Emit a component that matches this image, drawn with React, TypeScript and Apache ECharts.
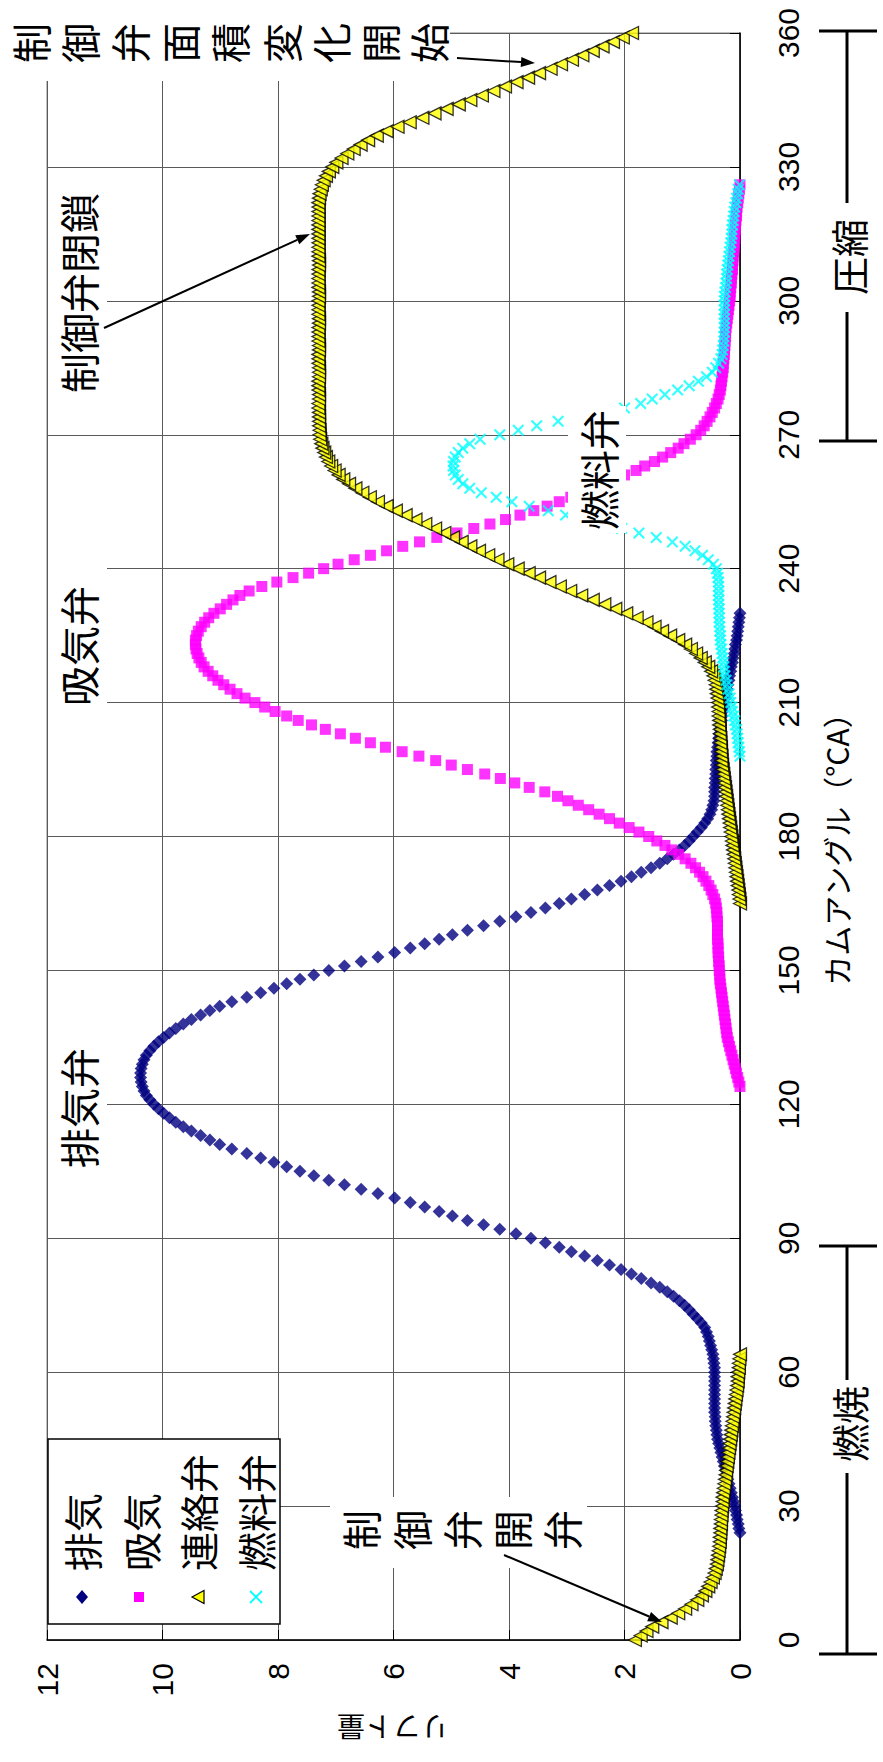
import React, { useEffect, useRef } from "react";
import * as echarts from "echarts";

const W = 883;
const H = 1762;

// Cam angle (deg CA) sampled every 1 degree; lift in mm
const exhaustStart = 24;
const exhaustLift = [
  0.00, 0.02, 0.03, 0.05, 0.06, 0.08, 0.09, 0.11, 0.13, 0.15,
  0.17, 0.19, 0.21, 0.23, 0.25, 0.27, 0.29, 0.31, 0.33, 0.35,
  0.37, 0.39, 0.40, 0.41, 0.42, 0.43, 0.43, 0.44, 0.44, 0.44,
  0.44, 0.44, 0.44, 0.44, 0.44, 0.44, 0.44, 0.44, 0.45, 0.46,
  0.47, 0.49, 0.51, 0.53, 0.55, 0.58, 0.61, 0.67, 0.74, 0.81,
  0.88, 0.96, 1.05, 1.15, 1.26, 1.39, 1.54, 1.71, 1.88, 2.06,
  2.26, 2.47, 2.69, 2.92, 3.13, 3.37, 3.62, 3.88, 4.16, 4.44,
  4.72, 4.98, 5.21, 5.46, 5.71, 5.98, 6.27, 6.56, 6.85, 7.12,
  7.38, 7.62, 7.85, 8.07, 8.30, 8.54, 8.80, 9.01, 9.18, 9.34,
  9.50, 9.64, 9.77, 9.88, 9.98, 10.07, 10.15, 10.22, 10.28, 10.32,
  10.35, 10.37, 10.38, 10.38, 10.37, 10.35, 10.32, 10.28, 10.22, 10.15,
  10.07, 9.98, 9.88, 9.77, 9.64, 9.50, 9.34, 9.18, 9.01, 8.80,
  8.54, 8.30, 8.07, 7.85, 7.62, 7.38, 7.12, 6.85, 6.56, 6.27,
  5.98, 5.71, 5.46, 5.21, 4.98, 4.72, 4.44, 4.16, 3.88, 3.62,
  3.37, 3.13, 2.92, 2.69, 2.47, 2.26, 2.06, 1.88, 1.71, 1.54,
  1.39, 1.26, 1.15, 1.05, 0.96, 0.88, 0.81, 0.74, 0.67, 0.61,
  0.56, 0.52, 0.49, 0.47, 0.45, 0.44, 0.44, 0.44, 0.43, 0.43,
  0.42, 0.42, 0.41, 0.41, 0.40, 0.40, 0.39, 0.38, 0.37, 0.36,
  0.35, 0.34, 0.32, 0.31, 0.30, 0.28, 0.27, 0.25, 0.24, 0.22,
  0.21, 0.19, 0.18, 0.16, 0.15, 0.13, 0.12, 0.10, 0.09, 0.08,
  0.06, 0.05, 0.04, 0.03, 0.02, 0.01, 0.00,
];

const intakeStart = 124;
const intakeLift = [
  0.00, 0.02, 0.04, 0.06, 0.08, 0.10, 0.12, 0.14, 0.16, 0.18,
  0.20, 0.22, 0.23, 0.24, 0.25, 0.26, 0.27, 0.28, 0.29, 0.30,
  0.31, 0.32, 0.33, 0.34, 0.35, 0.35, 0.36, 0.36, 0.37, 0.37,
  0.38, 0.38, 0.38, 0.39, 0.39, 0.39, 0.39, 0.39, 0.40, 0.40,
  0.41, 0.42, 0.44, 0.47, 0.50, 0.54, 0.59, 0.64, 0.70, 0.77,
  0.85, 0.95, 1.06, 1.18, 1.30, 1.44, 1.58, 1.75, 1.92, 2.09,
  2.26, 2.44, 2.62, 2.80, 2.98, 3.16, 3.38, 3.65, 3.90, 4.15,
  4.42, 4.72, 5.00, 5.27, 5.56, 5.85, 6.14, 6.40, 6.66, 6.92,
  7.18, 7.42, 7.65, 7.85, 8.05, 8.23, 8.40, 8.57, 8.71, 8.83,
  8.94, 9.04, 9.13, 9.21, 9.28, 9.33, 9.37, 9.40, 9.42, 9.43,
  9.43, 9.41, 9.38, 9.33, 9.27, 9.20, 9.11, 9.00, 8.89, 8.78,
  8.66, 8.50, 8.28, 8.02, 7.74, 7.47, 7.21, 6.96, 6.68, 6.40,
  6.12, 5.84, 5.55, 5.25, 4.90, 4.61, 4.33, 4.06, 3.81, 3.57,
  3.34, 3.13, 2.93, 2.73, 2.54, 2.35, 2.17, 2.00, 1.80, 1.65,
  1.48, 1.34, 1.20, 1.07, 0.97, 0.86, 0.76, 0.68, 0.62, 0.57,
  0.52, 0.48, 0.44, 0.41, 0.38, 0.36, 0.34, 0.33, 0.32, 0.31,
  0.30, 0.29, 0.29, 0.28, 0.27, 0.27, 0.26, 0.26, 0.25, 0.25,
  0.24, 0.23, 0.22, 0.21, 0.20, 0.19, 0.18, 0.17, 0.17, 0.16,
  0.15, 0.15, 0.14, 0.13, 0.13, 0.12, 0.12, 0.11, 0.10, 0.10,
  0.09, 0.09, 0.08, 0.08, 0.07, 0.06, 0.06, 0.05, 0.04, 0.03,
  0.02, 0.01, 0.00,
];

const linkStartA = 0;
const linkLiftA = [
  1.82, 1.72, 1.62, 1.52, 1.36, 1.20, 1.07, 0.95, 0.84, 0.74,
  0.66, 0.60, 0.55, 0.51, 0.47, 0.44, 0.42, 0.40, 0.39, 0.38,
  0.37, 0.36, 0.35, 0.35, 0.34, 0.34, 0.33, 0.33, 0.32, 0.32,
  0.31, 0.30, 0.30, 0.29, 0.28, 0.27, 0.26, 0.25, 0.24, 0.23,
  0.22, 0.21, 0.20, 0.19, 0.18, 0.17, 0.16, 0.15, 0.14, 0.13,
  0.12, 0.11, 0.10, 0.09, 0.08, 0.07, 0.06, 0.05, 0.04, 0.04,
  0.03, 0.02, 0.02, 0.01, 0.00,
];

const linkStartB = 165;
const linkLiftB = [
  0.00, 0.01, 0.02, 0.03, 0.04, 0.05, 0.06, 0.07, 0.08, 0.09,
  0.10, 0.11, 0.12, 0.13, 0.14, 0.15, 0.16, 0.17, 0.18, 0.19,
  0.20, 0.21, 0.22, 0.23, 0.24, 0.25, 0.26, 0.27, 0.28, 0.29,
  0.30, 0.31, 0.32, 0.32, 0.33, 0.33, 0.34, 0.34, 0.35, 0.35,
  0.36, 0.36, 0.37, 0.37, 0.38, 0.38, 0.39, 0.40, 0.41, 0.42,
  0.44, 0.46, 0.50, 0.55, 0.61, 0.68, 0.76, 0.85, 0.95, 1.07,
  1.21, 1.35, 1.48, 1.62, 1.79, 1.97, 2.16, 2.35, 2.55, 2.75,
  2.94, 3.12, 3.30, 3.48, 3.66, 3.85, 4.03, 4.20, 4.36, 4.52,
  4.67, 4.82, 4.97, 5.12, 5.28, 5.45, 5.62, 5.79, 5.96, 6.12,
  6.27, 6.41, 6.54, 6.66, 6.77, 6.87, 6.95, 7.02, 7.08, 7.13,
  7.17, 7.20, 7.23, 7.25, 7.27, 7.28, 7.28, 7.29, 7.29, 7.29,
  7.29, 7.30, 7.30, 7.29, 7.29, 7.30, 7.30, 7.30, 7.29, 7.29,
  7.29, 7.30, 7.30, 7.30, 7.29, 7.29, 7.30, 7.30, 7.30, 7.30,
  7.29, 7.29, 7.30, 7.30, 7.30, 7.30, 7.29, 7.29, 7.30, 7.30,
  7.30, 7.30, 7.30, 7.29, 7.29, 7.30, 7.30, 7.30, 7.30, 7.30,
  7.30, 7.30, 7.30, 7.30, 7.30, 7.30, 7.30, 7.30, 7.29, 7.28,
  7.26, 7.24, 7.21, 7.17, 7.12, 7.06, 6.99, 6.90, 6.80, 6.69,
  6.57, 6.44, 6.29, 6.12, 5.93, 5.72, 5.50, 5.29, 5.08, 4.87,
  4.67, 4.47, 4.27, 4.07, 3.87, 3.67, 3.48, 3.28, 3.10, 2.91,
  2.73, 2.55, 2.38, 2.20, 2.03, 1.87,
];

const fuelStart = 198;
const fuelLift = [
  0.00, 0.01, 0.02, 0.03, 0.04, 0.05, 0.06, 0.08, 0.09, 0.11,
  0.13, 0.14, 0.16, 0.17, 0.19, 0.21, 0.23, 0.24, 0.26, 0.27,
  0.28, 0.29, 0.30, 0.31, 0.32, 0.33, 0.34, 0.34, 0.35, 0.35,
  0.36, 0.36, 0.36, 0.36, 0.37, 0.37, 0.37, 0.37, 0.37, 0.37,
  0.38, 0.39, 0.41, 0.46, 0.55, 0.65, 0.78, 0.95, 1.17, 1.45,
  1.75, 2.05, 2.38, 2.72, 3.02, 3.32, 3.65, 3.95, 4.22, 4.48,
  4.68, 4.80, 4.88, 4.93, 4.96, 4.97, 4.96, 4.93, 4.88, 4.80,
  4.68, 4.50, 4.16, 3.84, 3.52, 3.15, 2.75, 2.35, 2.00, 1.72,
  1.52, 1.30, 1.08, 0.88, 0.72, 0.58, 0.48, 0.42, 0.37, 0.33,
  0.31, 0.30, 0.29, 0.28, 0.28, 0.27, 0.27, 0.27, 0.27, 0.27,
  0.27, 0.27, 0.27, 0.27, 0.26, 0.25, 0.24, 0.23, 0.23, 0.22,
  0.21, 0.20, 0.19, 0.18, 0.17, 0.16, 0.15, 0.14, 0.14, 0.13,
  0.12, 0.11, 0.10, 0.09, 0.07, 0.06, 0.04, 0.03, 0.01,
];

const seriesNames = ["排気", "吸気", "連絡弁", "燃料弁"];
const seriesColors = ["#000080", "#FF00FF", "#FFFF00", "#00FFFF"];

const JP = "'Noto Sans CJK JP', 'Noto Sans', sans-serif";
const NUM = "'Liberation Sans Narrow', 'Liberation Sans', Arial, sans-serif";
const CROSS =
  "path://M0,2.5L2.5,0L10,7.5L17.5,0L20,2.5L12.5,10L20,17.5L17.5,20L10,12.5L2.5,20L0,17.5L7.5,10Z";

function toPairs(start: number, arr: number[]) {
  return arr.map((v, i) => [v, start + i]);
}

const R90 = Math.PI / 2;

function txt(x: number, y: number, text: string, size: number, rot: number, align = "center", font = JP) {
  return {
    type: "text",
    x,
    y,
    rotation: rot,
    z: 120,
    silent: true,
    style: {
      text,
      fontSize: size,
      fontFamily: font,
      fill: "#000",
      align,
      textAlign: align,
      verticalAlign: "middle",
      textVerticalAlign: "middle",
    },
  };
}

function whiteRect(x: number, y: number, w: number, h: number) {
  return { type: "rect", z: 110, silent: true, shape: { x, y, width: w, height: h }, style: { fill: "#fff" } };
}

function seg(x1: number, y1: number, x2: number, y2: number, lw = 2) {
  return { type: "line", z: 115, silent: true, shape: { x1, y1, x2, y2 }, style: { stroke: "#000", lineWidth: lw } };
}

function arrow(x1: number, y1: number, x2: number, y2: number) {
  const a = Math.atan2(y2 - y1, x2 - x1);
  const L = 14;
  const hw = 5;
  const bx = x2 - L * Math.cos(a);
  const by = y2 - L * Math.sin(a);
  const px = -Math.sin(a) * hw;
  const py = Math.cos(a) * hw;
  return [
    seg(x1, y1, bx, by, 2),
    {
      type: "polygon",
      z: 115,
      silent: true,
      shape: { points: [[x2, y2], [bx + px, by + py], [bx - px, by - py]] },
      style: { fill: "#000" },
    },
  ];
}

function charRow(chars: string, xs: number[], y: number, size: number) {
  return chars.split("").map((c, i) => txt(xs[i], y, c, size, R90));
}

export default function App() {
  const ref = useRef<HTMLDivElement>(null);

  useEffect(() => {
    if (!ref.current) return;
    const chart = echarts.init(ref.current, undefined, { renderer: "svg" });

    const axisCommon = {
      type: "value",
      axisLine: { show: true, onZero: false, lineStyle: { color: "#000", width: 1.5 } },
      axisTick: { show: true, inside: true, length: 10, lineStyle: { color: "#000", width: 1 } },
      splitLine: { show: true, lineStyle: { color: "#5a5a5a", width: 1 } },
    };

    const graphics: any[] = [
      // top annotation: 制御弁面積変化開始
      whiteRect(0, 0, 450, 81),
      ...charRow("制御弁面積変化開始", [30, 79, 129, 179, 229, 281, 330, 379, 428], 43, 40),
      ...arrow(457, 58, 535, 63),
      // 制御弁閉鎖
      whiteRect(48, 180, 59, 225),
      txt(78, 293, "制御弁閉鎖", 40, R90),
      ...arrow(104, 328, 310, 234),
      // 吸気弁
      whiteRect(48, 560, 59, 152),
      txt(78, 646, "吸気弁", 40, R90),
      // 排気弁
      whiteRect(48, 1042, 59, 138),
      txt(78, 1108, "排気弁", 40, R90),
      // 燃料弁
      whiteRect(568, 406, 58, 127),
      txt(598, 470, "燃料弁", 40, R90),
      // 制御弁開弁
      whiteRect(330, 1497, 257, 71),
      ...charRow("制御弁開弁", [360, 411, 461, 511, 561], 1530, 40),
      ...arrow(504, 1555, 662, 1622),
      // axis titles
      txt(836, 842, "カムアングル（°CA）", 30, R90),
      txt(393, 1728, "リフト量", 28, Math.PI),
      // bracket 圧縮
      seg(819, 31, 877, 31, 3),
      seg(819, 441, 877, 441, 3),
      seg(847, 31, 847, 203, 3),
      seg(847, 312, 847, 441, 3),
      txt(847, 257, "圧縮", 38, R90),
      // bracket 燃焼
      seg(819, 1246, 877, 1246, 3),
      seg(819, 1654, 877, 1654, 3),
      seg(847, 1246, 847, 1380, 3),
      seg(847, 1473, 847, 1654, 3),
      txt(848, 1424, "燃焼", 38, R90),
      // legend
      {
        type: "rect",
        z: 110,
        silent: true,
        shape: { x: 48, y: 1439, width: 232, height: 185 },
        style: { fill: "#fff", stroke: "#000", lineWidth: 1.5 },
      },
      {
        type: "polygon",
        z: 115,
        shape: { points: [[82, 1590], [88, 1597], [82, 1604], [76, 1597]] },
        style: { fill: seriesColors[0] },
      },
      { type: "rect", z: 115, shape: { x: 134, y: 1592, width: 10, height: 10 }, style: { fill: seriesColors[1] } },
      {
        type: "polygon",
        z: 115,
        shape: { points: [[192, 1597], [204, 1590.5], [204, 1603.5]] },
        style: { fill: seriesColors[2], stroke: "#000", lineWidth: 1.2 },
      },
      { type: "line", z: 115, shape: { x1: 250, y1: 1591, x2: 262, y2: 1603 }, style: { stroke: seriesColors[3], lineWidth: 1.8 } },
      { type: "line", z: 115, shape: { x1: 262, y1: 1591, x2: 250, y2: 1603 }, style: { stroke: seriesColors[3], lineWidth: 1.8 } },
      txt(81, 1571, seriesNames[0], 39, R90, "left"),
      txt(140, 1571, seriesNames[1], 39, R90, "left"),
      txt(197, 1571, seriesNames[2], 39, R90, "left"),
      txt(255, 1571, seriesNames[3], 39, R90, "left"),
    ];

    chart.setOption({
      animation: false,
      backgroundColor: "#fff",
      grid: {
        left: 47,
        right: 143,
        top: 33,
        bottom: 122,
        show: true,
        borderColor: "#808080",
        borderWidth: 1,
        backgroundColor: "transparent",
      },
      xAxis: {
        ...axisCommon,
        min: 0,
        max: 12,
        interval: 2,
        inverse: true,
        position: "bottom",
        axisLabel: { rotate: 90, margin: 23, fontSize: 30, fontFamily: NUM, color: "#000" },
      },
      yAxis: {
        ...axisCommon,
        min: 0,
        max: 360,
        interval: 30,
        position: "right",
        axisLabel: { rotate: 90, margin: 33, fontSize: 30, fontFamily: NUM, color: "#000" },
      },
      series: [
        {
          type: "scatter",
          name: seriesNames[0],
          data: toPairs(exhaustStart, exhaustLift),
          symbol: "diamond",
          symbolSize: 13,
          itemStyle: { color: seriesColors[0] },
          silent: true,
        },
        {
          type: "scatter",
          name: seriesNames[1],
          data: toPairs(intakeStart, intakeLift),
          symbol: "rect",
          symbolSize: 11,
          itemStyle: { color: seriesColors[1] },
          silent: true,
        },
        {
          type: "scatter",
          name: seriesNames[2],
          data: [...toPairs(linkStartA, linkLiftA), ...toPairs(linkStartB, linkLiftB)],
          symbol: "triangle",
          symbolSize: 13,
          symbolRotate: 90,
          itemStyle: { color: seriesColors[2], borderColor: "#000", borderWidth: 1.3 },
          silent: true,
        },
        {
          type: "scatter",
          name: seriesNames[3],
          data: toPairs(fuelStart, fuelLift),
          symbol: CROSS,
          symbolSize: 12,
          itemStyle: { color: seriesColors[3] },
          silent: true,
        },
      ],
      graphic: graphics,
    });

    return () => chart.dispose();
  }, []);

  return <div ref={ref} style={{ position: "absolute", left: 0, top: 0, width: W, height: H }} />;
}
